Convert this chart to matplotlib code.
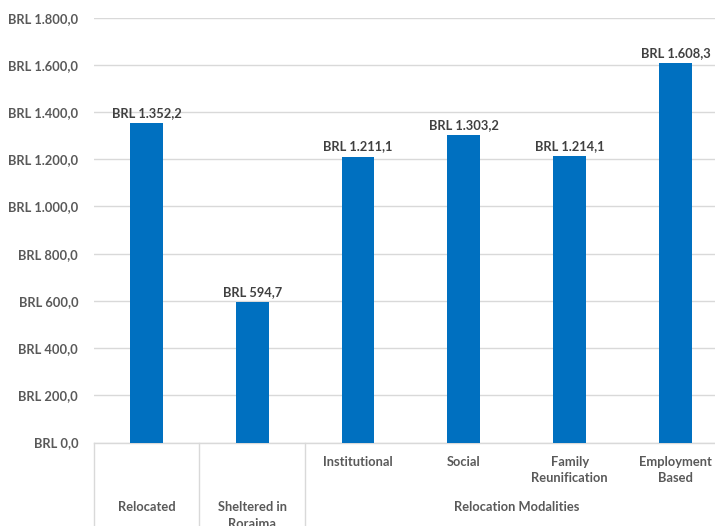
import matplotlib
matplotlib.use("Agg")
import matplotlib.pyplot as plt
import matplotlib.transforms as mtransforms
from matplotlib.lines import Line2D

plt.rcParams['font.family'] = ['Lato', 'DejaVu Sans']

categories = ["Relocated", "Sheltered in\nRoraima", "Institutional", "Social",
              "Family\nReunification", "Employment\nBased"]
values = [1352.2, 594.7, 1211.1, 1303.2, 1214.1, 1608.3]
group_name = "Relocation Modalities"
group_members = [2, 3, 4, 5]
standalone = [0, 1]
yticks = [0, 200, 400, 600, 800, 1000, 1200, 1400, 1600, 1800]


def brl(v):
    s = f"{v:,.1f}"
    s = s.replace(",", "X").replace(".", ",").replace("X", ".")
    return "BRL " + s


BAR = "#0070C0"
GRID = "#d9d9d9"
TICK = "#595959"
LABEL = "#404040"
FS = 9.3

fig = plt.figure(figsize=(7.15, 5.26), dpi=100)
ax = fig.add_axes([93.5 / 715, 83.5 / 526, (728.3 - 93.5) / 715, (508.3 - 83.5) / 526])

x = list(range(len(categories)))
ax.bar(x, values, width=0.31, color=BAR, zorder=3)
ax.set_xlim(-0.5, len(categories) - 0.5)
ax.set_ylim(0, 1800)
ax.set_yticks(yticks)
ax.set_yticklabels([brl(v) for v in yticks], fontsize=FS, fontweight='bold', color=TICK)
ax.tick_params(axis='y', length=0, pad=11)
ax.set_xticks([])
ax.yaxis.grid(True, color=GRID, linewidth=1.0, zorder=0)
for s in ['top', 'right', 'left']:
    ax.spines[s].set_visible(False)
ax.spines['bottom'].set_color(GRID)
ax.spines['bottom'].set_linewidth(1.0)

for xi, v in zip(x, values):
    ax.annotate(brl(v), (xi, v), xytext=(0, 3), textcoords='offset points',
                ha='center', va='bottom', fontsize=FS, fontweight='bold', color=LABEL)

trans = mtransforms.blended_transform_factory(ax.transData, fig.transFigure)
for i in group_members:
    ax.text(i, 1 - 456 / 526, categories[i], transform=trans, ha='center', va='top',
            fontsize=FS, fontweight='bold', color=TICK, linespacing=1.45, clip_on=False)
for i in standalone:
    ax.text(i, 1 - 501 / 526, categories[i], transform=trans, ha='center', va='top',
            fontsize=FS, fontweight='bold', color=TICK, linespacing=1.45, clip_on=False)
gx = (group_members[0] + group_members[-1]) / 2
ax.text(gx, 1 - 501 / 526, group_name, transform=trans, ha='center', va='top',
        fontsize=FS, fontweight='bold', color=TICK, clip_on=False)

for d in [-0.5, 0.5, 1.5]:
    fig.add_artist(Line2D([d, d], [0, 83.5 / 526], transform=trans, color=GRID, linewidth=1.0))

fig.savefig("out.png", dpi=100)
